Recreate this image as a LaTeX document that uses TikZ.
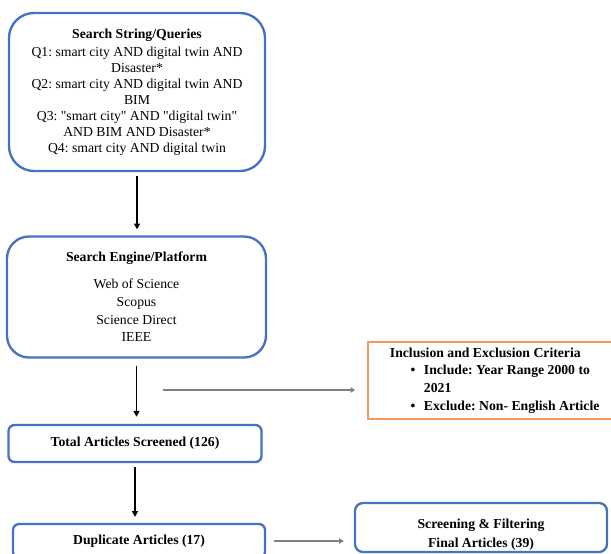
\documentclass[tikz,border=0pt]{standalone}
\usepackage{fontspec}
\newfontfamily\flowfont{Liberation Serif}
\usetikzlibrary{arrows.meta}
\definecolor{boxblue}{RGB}{68,114,196}
\definecolor{critorange}{RGB}{244,152,92}
\definecolor{flowgray}{RGB}{128,128,128}
\begin{document}
\begin{tikzpicture}[x=0.03cm,y=-0.03cm,
	every node/.style={font=\flowfont\frenchspacing\fontsize{11.7}{15}\selectfont},
	stagebox/.style={draw=boxblue,line width=2pt,align=center,inner sep=0pt},
	flowarrow/.style={-{Triangle[length=5pt,width=5pt]},line width=1.4pt,black},
	sidearrow/.style={-{Triangle[length=4pt,width=4.5pt]},line width=1.3pt,flowgray}]
	\useasboundingbox (0,0) rectangle (611,553);
	% Stages
	\node[stagebox,rounded corners=0.75cm,minimum width=7.68cm,minimum height=4.74cm,
		font=\flowfont\frenchspacing\fontsize{11.7}{13.6}\selectfont] (query) at (137,92)
		{\textbf{Search String/Queries}\\[2.5pt]
		Q1: smart city AND digital twin AND\\ Disaster*\\
		Q2: smart city AND digital twin AND\\ BIM\\
		Q3: "smart city" AND "digital twin"\\ AND BIM AND Disaster*\\
		Q4: smart city AND digital twin};
	\node[stagebox,rounded corners=0.66cm,minimum width=7.77cm,minimum height=3.63cm] (engine) at (136.5,297)
		{\textbf{Search Engine/Platform}\\[8pt]
		Web of Science\\ Scopus\\ Science Direct\\ IEEE};
	\node[stagebox,rounded corners=0.18cm,minimum width=7.59cm,minimum height=1.11cm] (screened) at (135,443.5)
		{\textbf{Total Articles Screened (126)}};
	\node[stagebox,rounded corners=0.18cm,minimum width=7.56cm,minimum height=1.02cm] (duplicate) at (139,541)
		{\textbf{Duplicate Articles (17)}};
	\node[stagebox,rounded corners=0.24cm,minimum width=7.56cm,minimum height=1.47cm,
		font=\flowfont\frenchspacing\fontsize{11.7}{16}\selectfont] (final) at (481,527.5)
		{\rule{0pt}{20pt}\textbf{Screening \& Filtering}\\ \textbf{Final Articles (39)}};
	% Criteria
	\node[draw=critorange,line width=1.6pt,align=left,anchor=west,inner xsep=0.66cm,
		minimum width=7.59cm,minimum height=2.31cm,
		font=\flowfont\frenchspacing\fontsize{11.7}{15}\selectfont\bfseries] (crit) at (367,380.5)
		{Inclusion and Exclusion Criteria\\
		\hspace*{0.62cm}\makebox[0.4cm][l]{\textbullet}Include: Year Range 2000 to\\
		\hspace*{1.02cm}2021\\
		\hspace*{0.62cm}\makebox[0.4cm][l]{\textbullet}Exclude: Non- English Article};
	%Arrows
	\draw[flowarrow,shorten <=3pt,shorten >=5pt] (query.south) -- (query.south |- engine.north);
	\draw[flowarrow,shorten <=6pt,shorten >=6pt] (engine.south) -- (engine.south |- screened.north);
	\draw[flowarrow,shorten <=3.5pt,shorten >=5pt] (screened.south) -- (screened.south |- duplicate.north);
	\coordinate (critfrom) at (163,390);
	\draw[sidearrow,shorten >=10pt] (critfrom) -- (critfrom -| crit.west);
	\draw[sidearrow,shorten <=7pt,shorten >=8.5pt] (duplicate.east) -- (duplicate.east -| final.west);
\end{tikzpicture}
\end{document}
